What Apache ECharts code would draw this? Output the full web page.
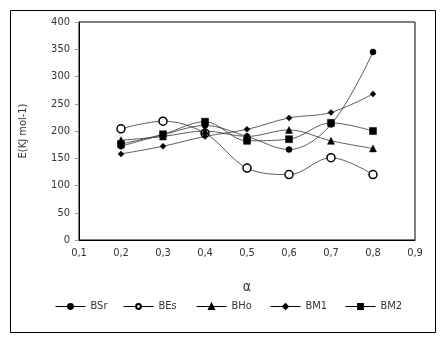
<!DOCTYPE html>
<html><head><meta charset="utf-8">
<script src="https://cdn.jsdelivr.net/npm/echarts@6/dist/echarts.min.js"></script>
<style>html,body{margin:0;padding:0;background:#fff}#c{width:446px;height:339px}</style>
</head><body><div id="c"></div>
<script>
const alpha = [0.2, 0.3, 0.4, 0.5, 0.6, 0.7, 0.8];
const BSr = [172, 193, 210, 190, 166, 212, 345];
const BEs = [204, 218, 196, 132, 120, 151, 120];
const BHo = [183, 190, 200, 190, 202, 182, 168];
const BM1 = [158, 172, 190, 203, 224, 234, 268];
const BM2 = [176, 194, 217, 182, 185, 215, 200];
const xTicks = [0.1, 0.2, 0.3, 0.4, 0.5, 0.6, 0.7, 0.8, 0.9];
const yTicks = [0, 50, 100, 150, 200, 250, 300, 350, 400];
const names = ['BSr', 'BEs', 'BHo', 'BM1', 'BM2'];
const values = [BSr, BEs, BHo, BM1, BM2];

const FONT = '"DejaVu Sans Condensed","Liberation Sans Narrow","Liberation Sans",Arial,sans-serif';
const symbols = [
  {symbol: 'circle', size: 6, fill: '#000'},
  {symbol: 'circle', size: 8, fill: '#fff'},
  {symbol: 'triangle', size: 7, fill: '#000'},
  {symbol: 'diamond', size: 6, fill: '#000'},
  {symbol: 'rect', size: 7, fill: '#000'}
];
const legendLeft = [55, 123, 196, 270, 345];

const series = names.map((n, i) => ({
  name: n,
  type: 'line',
  smooth: 0.35,
  data: alpha.map((a, j) => [a, values[i][j]]),
  symbol: symbols[i].symbol,
  symbolSize: symbols[i].size,
  showAllSymbol: true,
  lineStyle: {color: '#333', width: 0.8},
  itemStyle: {color: symbols[i].fill, borderColor: '#000', borderWidth: i === 1 ? 1.5 : 0.5},
  emphasis: {disabled: true},
  z: 2
}));

const legends = names.map((n, i) => ({
  data: [n], top: 301, left: legendLeft[i],
  itemWidth: 30, itemHeight: 6, itemGap: 4, padding: 0,
  lineStyle: {width: 1, color: '#000'},
  textStyle: {fontFamily: FONT, fontSize: 11, color: '#333', padding: [0, 0, 0, 0]},
  selectedMode: false
}));

const chart = echarts.init(document.getElementById('c'), null, {renderer: 'canvas'});
chart.setOption({
  animation: false,
  backgroundColor: '#fff',
  graphic: [{
    type: 'rect', left: 8, top: 8,
    shape: {width: 425, height: 322},
    style: {fill: 'none', stroke: '#000', lineWidth: 1}
  }],
  grid: {left: 79, right: 31, top: 22, bottom: 99, show: true, borderColor: '#000', borderWidth: 1, backgroundColor: 'transparent'},
  xAxis: {
    type: 'value', min: xTicks[0], max: xTicks[xTicks.length - 1], interval: 0.1,
    name: 'α', nameLocation: 'middle', nameGap: 40,
    nameTextStyle: {fontFamily: FONT, fontSize: 14, color: '#333'},
    axisLine: {lineStyle: {color: '#000', width: 1}},
    axisTick: {show: false},
    splitLine: {show: false},
    axisLabel: {fontFamily: FONT, fontSize: 11, color: '#333', margin: 8,
      formatter: v => v.toFixed(1).replace('.', ',')}
  },
  yAxis: {
    type: 'value', min: yTicks[0], max: yTicks[yTicks.length - 1], interval: 50,
    name: 'E(KJ mol-1)', nameLocation: 'middle', nameGap: 50, nameRotate: 90,
    nameTextStyle: {fontFamily: FONT, fontSize: 11, color: '#333'},
    axisLine: {show: true, lineStyle: {color: '#000', width: 1}},
    axisTick: {show: true, length: 4, lineStyle: {color: '#999'}},
    splitLine: {show: false},
    axisLabel: {fontFamily: FONT, fontSize: 11, color: '#333', margin: 9}
  },
  legend: legends,
  series: series
});
</script></body></html>
